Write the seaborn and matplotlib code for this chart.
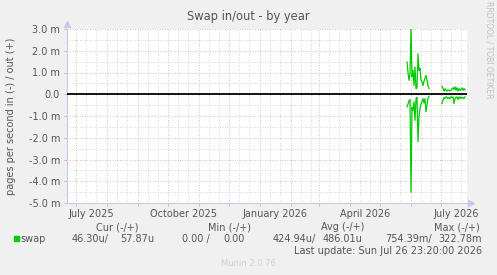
import pandas as pd
import matplotlib
matplotlib.use("Agg")
import matplotlib.pyplot as plt
import seaborn as sns

# swap in/out, milli-pages per second, daily points (two stretches with data)
seg1_start = "2026-05-28"
swap_out_1 = [1.48, 1.0, 0.64, 0.95, 3.05, 0.8, 1.1, 0.4, 1.25, 0.26, 0.3, 1.86,
              1.1, 1.2, 0.64, 0.58, 0.4, 0.6, 0.75, 0.87, 0.64, 0.4, 0.26]
swap_in_1 = [0.58, 0.45, 0.3, 0.25, 4.5, 0.6, 0.75, 0.35, 1.2, 0.2, 0.15, 2.18,
             1.04, 0.65, 0.43, 0.35, 0.2, 0.4, 0.2, 0.8, 0.5, 0.2, 0.1]
seg2_start = "2026-07-02"
swap_out_2 = [0.37, 0.26, 0.15, 0.26, 0.18, 0.15, 0.21, 0.18, 0.15, 0.18, 0.26, 0.3,
              0.21, 0.34, 0.18, 0.3, 0.15, 0.26, 0.18, 0.22, 0.3, 0.18, 0.26, 0.2]
swap_in_2 = [0.43, 0.27, 0.15, 0.2, 0.12, 0.15, 0.2, 0.15, 0.2, 0.12, 0.15, 0.12,
             0.43, 0.2, 0.15, 0.12, 0.24, 0.12, 0.2, 0.12, 0.18, 0.15, 0.2, 0.12]

y_ticks = [3, 2, 1, 0, -1, -2, -3, -4, -5]
y_labels = ["3.0 m", "2.0 m", "1.0 m", "0.0", "-1.0 m", "-2.0 m", "-3.0 m", "-4.0 m", "-5.0 m"]
x_label_dates = ["2025-07-16", "2025-10-16", "2026-01-16", "2026-04-16", "2026-07-16"]
x_labels = ["July 2025", "October 2025", "January 2026", "April 2026", "July 2026"]
legend_heads = ["Cur (-/+)", "Min (-/+)", "Avg (-/+)", "Max (-/+)"]
legend_vals = ["46.30u/", "57.87u", "0.00 /", "0.00", "424.94u/", "486.01u", "754.39m/", "322.78m"]

txt = "#555555"
green = "#00CC00"
plt.rcParams["font.family"] = ["DejaVu Sans"]

fig = plt.figure(figsize=(4.97, 2.75), dpi=100, facecolor="#F0F0F0")
W, H = 497, 275
ax = fig.add_axes([67 / W, 1 - 203 / H, 400 / W, 174 / H])
ax.set_facecolor("white")

# grid
months = pd.date_range("2025-07-01", "2026-07-01", freq="MS")
for m in months:
    ax.axvline(m, color="#E8A0A0", lw=0.6, ls=(0, (1, 2)), zorder=1)
    for d in (10, 20):
        ax.axvline(m + pd.Timedelta(days=d), color="#C8C8C8", lw=0.6, ls=(0, (1, 2)), zorder=1)
ax.axvline(pd.Timestamp("2025-06-21"), color="#C8C8C8", lw=0.6, ls=(0, (1, 2)), zorder=1)
for v in range(-5, 4):
    ax.axhline(v, color="#E8A0A0", lw=0.6, ls=(0, (1, 2)), zorder=1)
    if v < 3:
        ax.axhline(v + 0.5, color="#C8C8C8", lw=0.6, ls=(0, (1, 2)), zorder=1)

# data
for start, out_v, in_v in [(seg1_start, swap_out_1, swap_in_1), (seg2_start, swap_out_2, swap_in_2)]:
    dates = pd.date_range(start, periods=len(out_v), freq="D")
    df = pd.DataFrame({"date": dates, "out": out_v, "in": [-x for x in in_v]})
    sns.lineplot(data=df, x="date", y="out", ax=ax, color=green, lw=0.9, zorder=3)
    sns.lineplot(data=df, x="date", y="in", ax=ax, color=green, lw=0.9, zorder=3)

ax.axhline(0, color="black", lw=1.3, zorder=4)

ax.set_xlim(pd.Timestamp("2025-06-22"), pd.Timestamp("2026-07-27"))
ax.set_ylim(-5, 3)
ax.set_xlabel("")
ax.set_ylabel("pages per second in (-) / out (+)", color=txt, fontsize=7, labelpad=9)

ax.set_yticks(y_ticks)
ax.set_yticklabels(y_labels)
ax.tick_params(axis="y", colors="#E8A0A0", labelcolor=txt, labelsize=7, length=2, width=0.6, pad=3)
ax.set_xticks(months)
ax.set_xticklabels([""] * len(months))
ax.set_xticks(pd.to_datetime(x_label_dates), minor=True)
ax.set_xticklabels(x_labels, minor=True)
ax.tick_params(axis="x", which="major", colors="#E8A0A0", length=2, width=0.6)
ax.tick_params(axis="x", which="minor", labelcolor=txt, labelsize=7, length=0, pad=4)

for s in ("top", "right"):
    ax.spines[s].set_visible(False)
for s in ("left", "bottom"):
    ax.spines[s].set_color("#C8C8F0")
    ax.spines[s].set_linewidth(0.8)
ax.plot([0], [1.03], marker="^", color="#C8C8F0", ms=4, transform=ax.transAxes, clip_on=False)
ax.plot([1.01], [0], marker=">", color="#C8C8F0", ms=4, transform=ax.transAxes, clip_on=False)

fig.text(248 / W, 1 - 20 / H, "Swap in/out - by year", ha="center", va="baseline", color=txt, fontsize=8.3)
fig.text(489 / W, 1 - 50 / H, "RRDTOOL / TOBI OETIKER", ha="center", va="center", rotation=270,
         color="#C0C0C0", fontsize=5.5)

# legend block
for label, right in zip(legend_heads, [138, 251, 364, 480]):
    fig.text(right / W, 1 - 230 / H, label, ha="right", va="baseline", color=txt, fontsize=7)
fig.patches.append(plt.Rectangle((14 / W, 1 - 241 / H), 5 / W, 5 / H, color=green,
                                 transform=fig.transFigure, figure=fig))
fig.text(20 / W, 1 - 242 / H, "swap", ha="left", va="baseline", color=txt, fontsize=7)
for val, right in zip(legend_vals, [109, 154, 210, 245, 316, 362, 432, 482]):
    fig.text(right / W, 1 - 242 / H, val, ha="right", va="baseline", color=txt, fontsize=7)
fig.text(482 / W, 1 - 254 / H, "Last update: Sun Jul 26 23:20:00 2026", ha="right", va="baseline",
         color=txt, fontsize=7)
fig.text(248 / W, 1 - 266 / H, "Munin 2.0.76", ha="center", va="baseline", color="#D0D0D0", fontsize=6)

fig.savefig("out.png", dpi=100, facecolor=fig.get_facecolor())
